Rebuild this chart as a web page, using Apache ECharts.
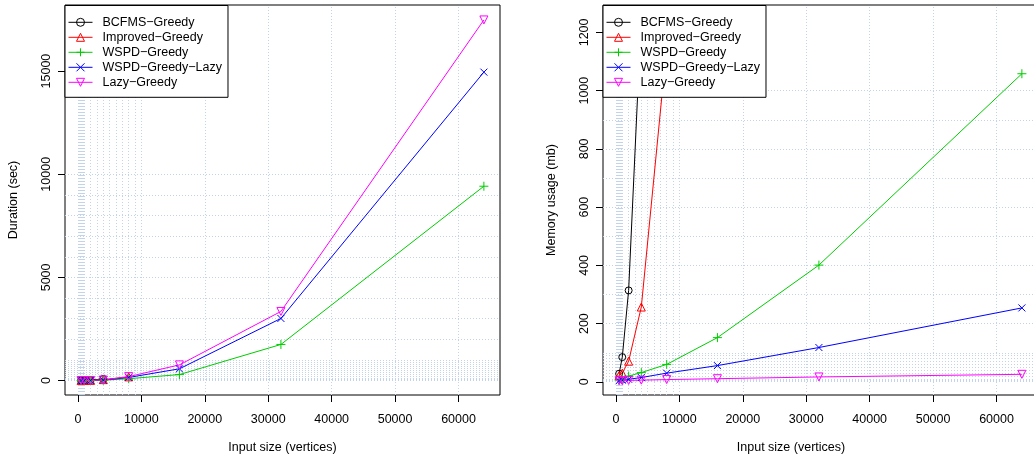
<!DOCTYPE html>
<html><head><meta charset="utf-8">
<script src="https://cdn.jsdelivr.net/npm/echarts@6/dist/echarts.min.js"></script>
<style>html,body{margin:0;padding:0;background:#fff}#c{width:1034px;height:458px}</style>
</head><body><div id="c"></div>
<script>
// ---- data ----
const sizes = [500, 1000, 2000, 4000, 8000, 16000, 32000, 64000];
const seriesNames = ['BCFMS−Greedy', 'Improved−Greedy', 'WSPD−Greedy', 'WSPD−Greedy−Lazy', 'Lazy−Greedy'];
// duration (sec)
const durBCFMS = [0.5, 3, 20, 80];
const durImproved = [0.3, 1.5, 8, 45, 180];
const durWSPD = [0.2, 0.6, 3, 15, 90, 290, 1750, 9420];
const durWSPDLazy = [0.2, 0.7, 3, 18, 150, 570, 3010, 14950];
const durLazy = [0.2, 0.8, 4, 25, 190, 760, 3350, 17480];
// memory usage (mb)
const memBCFMS = [28, 85, 314, 1260];
const memImproved = [22, 30, 71, 257, 1150];
const memWSPD = [6, 10, 20, 32, 60, 152, 401, 1058];
const memWSPDLazy = [4, 6, 9, 15, 30, 56, 118, 254];
const memLazy = [4, 4, 5, 6, 8, 11, 17, 26];
// tick labels
const xTicks = [0, 10000, 20000, 30000, 40000, 50000, 60000];
const durTicks = [0, 5000, 10000, 15000];
const memTicks = [0, 200, 400, 600, 800, 1000, 1200];
const xTitle = 'Input size (vertices)';
const durTitle = 'Duration (sec)';
const memTitle = 'Memory usage (mb)';

// ---- styling ----
const FONT = "'Liberation Sans', Arial, Helvetica, sans-serif";
const FS = 12.5;
const colors = ['#000000', '#ff0000', '#00cd00', '#0000ff', '#ff00ff'];
const symbols = ['circle', 'triangle', 'path://M0,-5L0,5M-5,0L5,0', 'path://M-5,-5L5,5M-5,5L5,-5', 'triangle'];
const symRot = [0, 0, 0, 0, 180];
const symSize = [7, 8, 9, 7, 8];

const X_MIN = -2040, X_MAX = 66540;
const DUR_MIN = -700, DUR_MAX = 18204;
const MEM_MIN = -45, MEM_MAX = 1294;

function logGrid(lo, hi) {
  const out = [];
  for (let k = 0; k <= 5; k++) for (let m = 1; m <= 9; m++) {
    const v = m * Math.pow(10, k);
    if (v > lo && v < hi) out.push(v);
  }
  return out;
}

function pairs(vals) { return vals.map((v, i) => [sizes[i], v]); }

function xAxis(gi, shiftPad) {
  return {
    type: 'value', gridIndex: gi, min: X_MIN, max: X_MAX,
    name: xTitle, nameLocation: 'middle', nameGap: 46,
    nameTextStyle: { fontSize: FS, fontFamily: FONT, color: '#000', padding: shiftPad ? [0, shiftPad, 0, 0] : 0 },
    axisLine: { show: false, onZero: false },
    axisTick: { show: true, inside: false, customValues: xTicks, length: 7, lineStyle: { color: '#000', width: 1 } },
    axisLabel: { customValues: xTicks, formatter: v => String(v), fontSize: FS, fontFamily: FONT, color: '#000', margin: 18.5 },
    splitLine: { show: false }
  };
}
function yAxis(gi, min, max, ticks, title) {
  return {
    type: 'value', gridIndex: gi, min: min, max: max,
    name: title, nameLocation: 'middle', nameGap: 45, nameRotate: 90,
    nameTextStyle: { fontSize: FS, fontFamily: FONT, color: '#000' },
    axisLine: { show: false, onZero: false },
    axisTick: { show: true, inside: false, customValues: ticks, length: 7, lineStyle: { color: '#000', width: 1 } },
    axisLabel: { customValues: ticks, formatter: v => String(v), rotate: 90, fontSize: FS, fontFamily: FONT, color: '#000', margin: 12 },
    splitLine: { show: false }
  };
}
function dataSeries(gi, idx, vals) {
  return {
    type: 'line', name: seriesNames[idx], xAxisIndex: gi, yAxisIndex: gi,
    data: pairs(vals), z: 2, clip: true,
    symbol: symbols[idx], symbolRotate: symRot[idx], symbolSize: symSize[idx], showSymbol: true,
    lineStyle: { color: colors[idx], width: 1 },
    itemStyle: { color: 'rgba(0,0,0,0)', borderColor: colors[idx], borderWidth: 1 },
    emphasis: { disabled: true }, silent: true
  };
}
function gridSeries(gi, ymin, ymax) {
  const xs = logGrid(X_MIN, X_MAX), ys = logGrid(ymin, ymax);
  return {
    type: 'line', xAxisIndex: gi, yAxisIndex: gi, data: [], silent: true, z: 1,
    markLine: {
      silent: true, z: 1, symbol: ['none', 'none'], label: { show: false },
      lineStyle: { color: '#c2d3ea', type: [1, 2], width: 1 },
      emphasis: { disabled: true },
      data: xs.map(v => ({ xAxis: v })).concat(ys.map(v => ({ yAxis: v })))
    }
  };
}
function legend(left) {
  return {
    left: left, top: 5.5, orient: 'vertical', itemWidth: 24, itemHeight: 10, itemGap: 2,
    padding: [10.3, 6, 8.5, 3], backgroundColor: '#fff', borderColor: '#000', borderWidth: 1, borderRadius: 0,
    itemStyle: { borderWidth: 1 }, lineStyle: { width: 1 },
    textStyle: { fontSize: FS, fontFamily: FONT, color: '#000', padding: [0, 0, 0, 5] },
    data: seriesNames, selectedMode: false, z: 6
  };
}
function grid(left) {
  return { left: left, top: 5, width: 435, height: 390, show: true, borderColor: '#000', borderWidth: 1,
           backgroundColor: 'transparent', containLabel: false, outerBoundsMode: 'none' };
}

const chart = echarts.init(document.getElementById('c'), null, { renderer: 'canvas' });
chart.setOption({
  animation: false,
  backgroundColor: '#fff',
  textStyle: { fontFamily: FONT },
  grid: [grid(65), grid(603)],
  legend: [legend(65), legend(603)],
  xAxis: [xAxis(0, 0), xAxis(1, 59)],
  yAxis: [yAxis(0, DUR_MIN, DUR_MAX, durTicks, durTitle), yAxis(1, MEM_MIN, MEM_MAX, memTicks, memTitle)],
  series: [
    gridSeries(0, DUR_MIN, DUR_MAX),
    gridSeries(1, MEM_MIN, MEM_MAX),
    dataSeries(0, 0, durBCFMS), dataSeries(0, 1, durImproved), dataSeries(0, 2, durWSPD), dataSeries(0, 3, durWSPDLazy), dataSeries(0, 4, durLazy),
    dataSeries(1, 0, memBCFMS), dataSeries(1, 1, memImproved), dataSeries(1, 2, memWSPD), dataSeries(1, 3, memWSPDLazy), dataSeries(1, 4, memLazy)
  ]
});
</script></body></html>
